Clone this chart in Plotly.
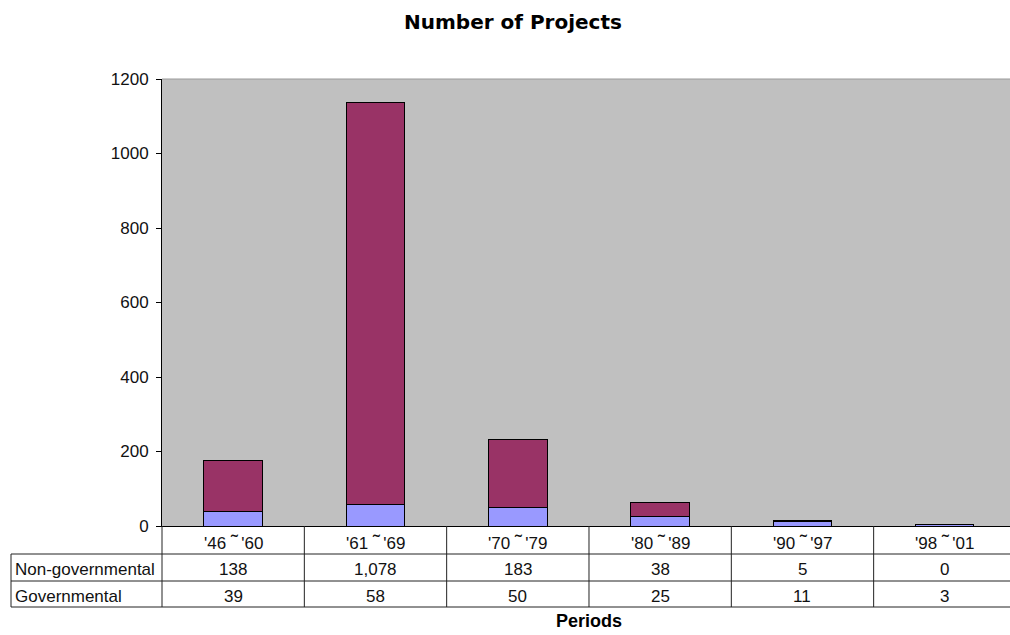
import plotly.graph_objects as go

# Data
period_starts = ["'46", "'61", "'70", "'80", "'90", "'98"]
period_ends = ["'60", "'69", "'79", "'89", "'97", "'01"]
governmental = [39, 58, 50, 25, 11, 3]
non_governmental = [138, 1078, 183, 38, 5, 0]
series_names = ["Non-governmental", "Governmental"]

W, H = 1010, 635
FONT = "Liberation Sans, Arial, sans-serif"
TXT = "#111111"
LINE = "#222222"
TILDE = "<span style='font-size:21px'>\u02dc</span>"
periods = [f"{a} {TILDE}\u2009{b}" for a, b in zip(period_starts, period_ends)]


def py(p):
    """Pixel row (from top) to paper y."""
    return 1 - p / H


def px(p):
    """Pixel column to paper x."""
    return p / W


idx = list(range(len(periods)))
cat_w = 142.33
plot_left = 162
x_end = -0.5 + (W - plot_left) / cat_w

fig = go.Figure()
fig.add_trace(go.Bar(
    x=idx, y=governmental, name=series_names[1],
    marker=dict(color="#9999FF", line=dict(color="#000000", width=1)),
    width=0.41,
))
fig.add_trace(go.Bar(
    x=idx, y=non_governmental, name=series_names[0],
    marker=dict(color="#993366", line=dict(color="#000000", width=1)),
    width=0.41,
))

shapes = []
# plot-area top border
shapes.append(dict(type="line", xref="paper", yref="paper",
                   x0=px(plot_left), x1=1, y0=py(79), y1=py(79),
                   line=dict(color="#9a9a9a", width=1)))
# table horizontal rules
for r in (554, 581, 607):
    shapes.append(dict(type="line", xref="paper", yref="paper",
                       x0=px(11), x1=1, y0=py(r), y1=py(r),
                       line=dict(color=LINE, width=1)))
# table left edge and label column edge
shapes.append(dict(type="line", xref="paper", yref="paper",
                   x0=px(11), x1=px(11), y0=py(554), y1=py(607),
                   line=dict(color=LINE, width=1)))
shapes.append(dict(type="line", xref="paper", yref="paper",
                   x0=px(plot_left), x1=px(plot_left), y0=py(526), y1=py(607),
                   line=dict(color=LINE, width=1)))
# column dividers between categories
for i in idx[:-1]:
    shapes.append(dict(type="line", xref="x", yref="paper",
                       x0=i + 0.5, x1=i + 0.5, y0=py(526), y1=py(607),
                       line=dict(color=LINE, width=1)))

annotations = []
cell_font = dict(family=FONT, size=17, color=TXT)
for i, p in enumerate(periods):
    annotations.append(dict(x=i, y=py(541), xref="x", yref="paper", text=p,
                            showarrow=False, font=cell_font,
                            xanchor="center", yanchor="middle"))
    annotations.append(dict(x=i, y=py(569), xref="x", yref="paper",
                            text=f"{non_governmental[i]:,}", showarrow=False,
                            font=cell_font, xanchor="center", yanchor="middle"))
    annotations.append(dict(x=i, y=py(596), xref="x", yref="paper",
                            text=f"{governmental[i]:,}", showarrow=False,
                            font=cell_font, xanchor="center", yanchor="middle"))
for name, row in zip(series_names, (569, 596)):
    annotations.append(dict(x=px(13), y=py(row), xref="paper", yref="paper",
                            text=name, showarrow=False, font=cell_font,
                            xanchor="left", yanchor="middle"))
# title and axis title
annotations.append(dict(x=px(513), y=py(22), xref="paper", yref="paper",
                        text="<b>Number of Projects</b>", showarrow=False,
                        font=dict(family="DejaVu Sans, sans-serif", size=20, color="#000"),
                        xanchor="center", yanchor="middle"))
annotations.append(dict(x=px(589), y=py(621), xref="paper", yref="paper",
                        text="<b>Periods</b>", showarrow=False,
                        font=dict(family=FONT, size=18, color="#000"),
                        xanchor="center", yanchor="middle"))

fig.update_layout(
    width=W, height=H,
    margin=dict(l=0, r=0, t=0, b=0, pad=0, autoexpand=False),
    paper_bgcolor="white",
    plot_bgcolor="#C0C0C0",
    barmode="stack",
    showlegend=False,
    shapes=shapes,
    annotations=annotations,
    xaxis=dict(domain=[px(plot_left), 1], range=[-0.5, x_end], automargin=False,
               showticklabels=False, showgrid=False, zeroline=False,
               showline=True, linecolor="#000", linewidth=1, ticks=""),
    yaxis=dict(domain=[py(526), py(79)], range=[0, 1200], dtick=200, automargin=False,
               showgrid=False, zeroline=False, showline=True,
               linecolor="#000", linewidth=1, ticks="outside", ticklen=5,
               tickcolor="#000", tickfont=dict(family=FONT, size=17, color=TXT),
               ticklabelstandoff=4),
)

fig.write_html("out.html")
